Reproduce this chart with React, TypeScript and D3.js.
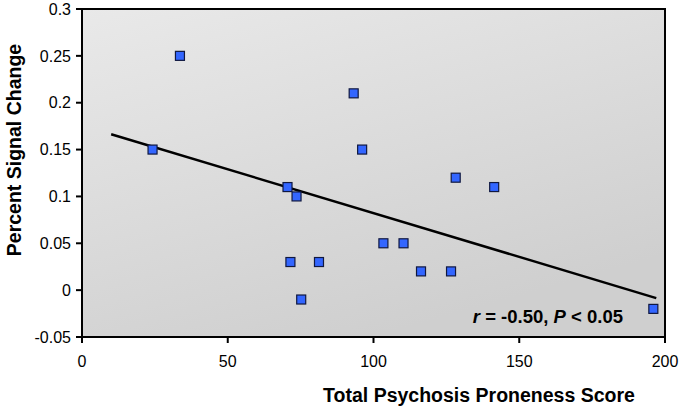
import React from "react";
import * as d3 from "d3";

const scoreX = [24.2, 33.6, 70.5, 73.6, 71.5, 81.3, 75.2, 93.2, 96.1, 103.4, 110.3, 116.3, 126.6, 128.2, 141.4, 196];
const signalY = [0.15, 0.25, 0.11, 0.10, 0.03, 0.03, -0.01, 0.21, 0.15, 0.05, 0.05, 0.02, 0.02, 0.12, 0.11, -0.02];
const xTicks = [0, 50, 100, 150, 200];
const yTicks = [-0.05, 0, 0.05, 0.1, 0.15, 0.2, 0.25, 0.3];
const trendRange = [10, 197];

const W = 682, H = 409;
const M = { left: 82, right: 665, top: 9, bottom: 337 };

export default function App() {
  const x = d3.scaleLinear().domain([0, 200]).range([M.left, M.right]);
  const y = d3.scaleLinear().domain([-0.05, 0.3]).range([M.bottom, M.top]);

  const mx = d3.mean(scoreX)!;
  const my = d3.mean(signalY)!;
  let sxy = 0, sxx = 0;
  scoreX.forEach((v, i) => { sxy += (v - mx) * (signalY[i] - my); sxx += (v - mx) ** 2; });
  const slope = sxy / sxx;
  const icpt = my - slope * mx;
  const line = d3.line<number>().x(d => x(d)).y(d => y(icpt + slope * d));

  const font = "'Liberation Sans', Arial, sans-serif";
  const s = 9;

  return (
    <svg width={W} height={H} style={{ position: "absolute", left: 0, top: 0 }} fontFamily={font}>
      <defs>
        <linearGradient id="bg" x1="0" y1="0" x2="0.5" y2="1">
          <stop offset="0" stopColor="#e9e9e9" />
          <stop offset="1" stopColor="#cfcfcf" />
        </linearGradient>
      </defs>
      <rect x={0} y={0} width={W} height={H} fill="#fff" />
      <rect x={M.left} y={M.top} width={M.right - M.left} height={M.bottom - M.top} fill="url(#bg)" stroke="#000" strokeWidth={2} />
      {yTicks.map(t => (
        <g key={"y" + t}>
          <line x1={M.left - 6} x2={M.left} y1={y(t)} y2={y(t)} stroke="#000" strokeWidth={2} />
          <text x={71} y={y(t)} dy="0.36em" textAnchor="end" fontSize={16} fill="#000">{String(+t.toFixed(2))}</text>
        </g>
      ))}
      {xTicks.map(t => (
        <g key={"x" + t}>
          <line x1={x(t)} x2={x(t)} y1={M.bottom} y2={M.bottom + 6} stroke="#000" strokeWidth={2} />
          <text x={x(t)} y={367} textAnchor="middle" fontSize={16} fill="#000">{t}</text>
        </g>
      ))}
      <path d={line(trendRange) || ""} stroke="#000" strokeWidth={2.5} fill="none" />
      {scoreX.map((v, i) => (
        <rect key={i} x={x(v) - s / 2} y={y(signalY[i]) - s / 2} width={s} height={s} fill="#3366ff" stroke="#101840" strokeWidth={1.2} />
      ))}
      <text x={623} y={323} textAnchor="end" fontSize={18.5} fontWeight="bold" fill="#000">
        <tspan fontStyle="italic">r</tspan> = -0.50, <tspan fontStyle="italic">P</tspan> &lt; 0.05
      </text>
      <text x={479} y={402} textAnchor="middle" fontSize={19.5} fontWeight="bold" fill="#000">Total Psychosis Proneness Score</text>
      <text transform={`translate(21,150) rotate(-90)`} textAnchor="middle" fontSize={19.5} fontWeight="bold" fill="#000">Percent Signal Change</text>
    </svg>
  );
}
